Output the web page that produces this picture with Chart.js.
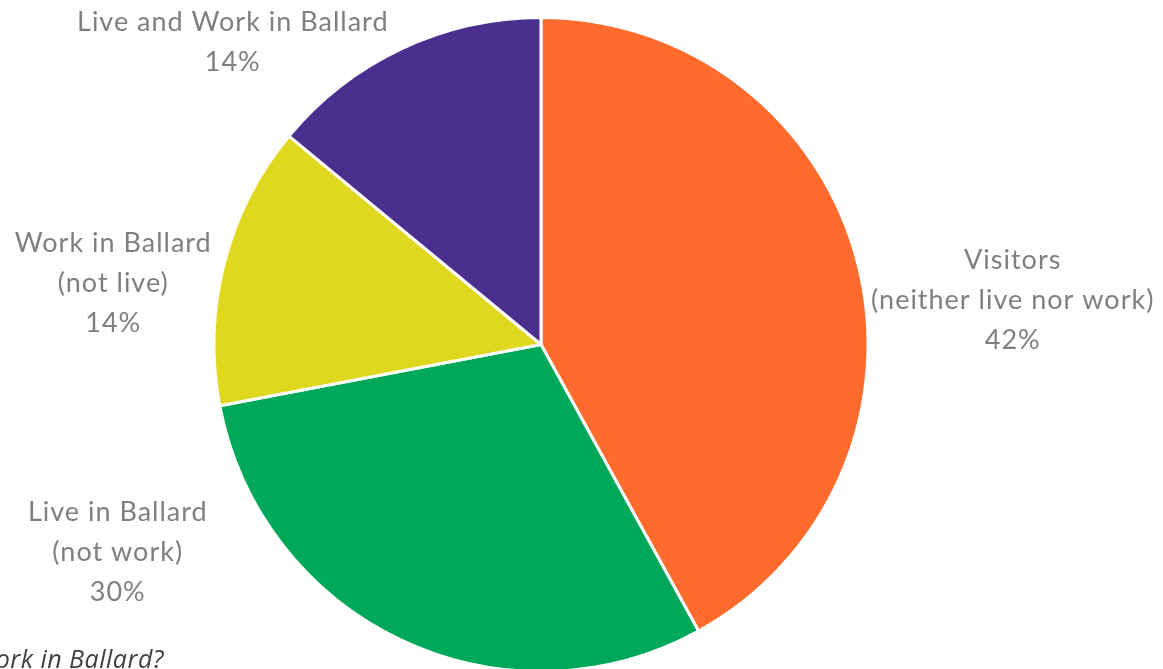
<!DOCTYPE html>
<html>
<head>
<meta charset="utf-8">
<script src="https://cdn.jsdelivr.net/npm/chart.js@4/dist/chart.umd.min.js"></script>
<style>
  html, body { margin: 0; padding: 0; background: #ffffff; overflow: hidden; }
  #wrap { position: relative; width: 1163px; height: 669px; overflow: hidden; }
  #pie { position: absolute; left: 0; top: 0; }
</style>
</head>
<body>
<div id="wrap"><canvas id="pie" width="1163" height="700"></canvas></div>
<script>
// Survey groups, one slice each (clockwise from 12 o'clock)
const categories = [
  ['Visitors', '(neither live nor work)'],
  ['Live in Ballard', '(not work)'],
  ['Work in Ballard', '(not live)'],
  ['Live and Work in Ballard']
];
const shares = [42, 30, 14, 14];
const sliceColors = ['#FF6B2D', '#00A85A', '#E0D81E', '#4A2F8F'];
const question = 'Do you live or work in Ballard?';

// Where each label block sits relative to the outer edge of its slice
const labelOffsets = [
  { dx: 155, dy: 37 },
  { dx: -284, dy: -88 },
  { dx: -111, dy: 20 },
  { dx: -169, dy: -6 }
];

const LABEL_FONT = '27px Lato, "Open Sans", sans-serif';
const LINE_HEIGHT = 40;

const sliceLabels = {
  id: 'sliceLabels',
  afterDraw(chart) {
    const ctx = chart.ctx;
    const meta = chart.getDatasetMeta(0);
    ctx.save();
    ctx.font = LABEL_FONT;
    ctx.letterSpacing = '1px';
    ctx.fillStyle = '#7F7F7F';
    ctx.textAlign = 'center';
    ctx.textBaseline = 'middle';
    meta.data.forEach((arc, i) => {
      const mid = (arc.startAngle + arc.endAngle) / 2;
      const ex = arc.x + Math.cos(mid) * arc.outerRadius;
      const ey = arc.y + Math.sin(mid) * arc.outerRadius;
      const off = labelOffsets[i];
      const lines = categories[i].concat([shares[i] + '%']);
      const cx = ex + off.dx;
      const cy = ey + off.dy;
      const top = cy - (lines.length - 1) * LINE_HEIGHT / 2;
      lines.forEach((t, k) => ctx.fillText(t, cx, top + k * LINE_HEIGHT));
    });
    // question caption at the lower left
    ctx.letterSpacing = '0.5px';
    ctx.font = 'italic 25px "Open Sans", sans-serif';
    ctx.fillStyle = '#404040';
    ctx.textAlign = 'right';
    ctx.textBaseline = 'alphabetic';
    ctx.fillText(question, 164, 668);
    ctx.restore();
  }
};

new Chart(document.getElementById('pie'), {
  type: 'pie',
  data: {
    labels: categories.map(c => c.join(' ')),
    datasets: [{
      data: shares,
      backgroundColor: sliceColors,
      borderColor: '#ffffff',
      borderWidth: 3
    }]
  },
  options: {
    responsive: false,
    animation: false,
    rotation: 0,
    layout: { padding: { top: 16, bottom: 27, left: 0, right: 81 } },
    plugins: {
      legend: { display: false },
      tooltip: { enabled: false },
      title: { display: false }
    }
  },
  plugins: [sliceLabels]
});
</script>
</body>
</html>
